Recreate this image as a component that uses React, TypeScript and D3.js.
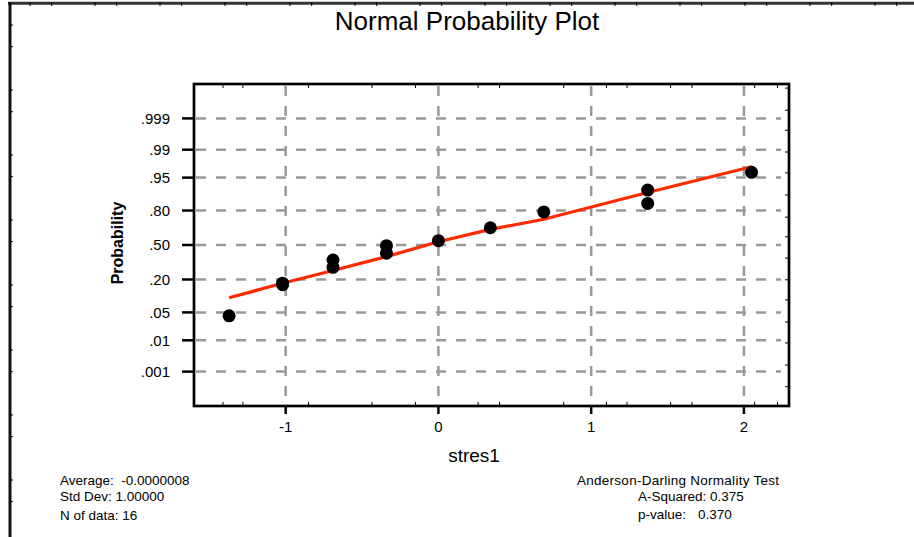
import * as d3 from "d3";

const W = 914;
const H = 537;

// stres1 values and plotted probabilities
const residuals = [-1.37, -1.02, -1.02, -0.69, -0.69, -0.34, -0.34, 0.0, 0.34, 0.69, 1.37, 1.37, 2.05];
const probs = [0.042, 0.176, 0.166, 0.357, 0.293, 0.493, 0.42, 0.542, 0.663, 0.79, 0.91, 0.845, 0.962];

// fitted line
const fitX = [-1.37, -1.02, -0.69, -0.34, 0.0, 0.34, 0.69, 1.37, 2.05];
const fitP = [0.099, 0.175, 0.267, 0.388, 0.532, 0.649, 0.735, 0.9, 0.972];

const yTicks = [0.999, 0.99, 0.95, 0.8, 0.5, 0.2, 0.05, 0.01, 0.001];
const yTickLabels = [".999", ".99", ".95", ".80", ".50", ".20", ".05", ".01", ".001"];
const xTicks = [-1, 0, 1, 2];

// small frame ticks
const xMinor = [-1.41, -1.28, -0.85, -0.435, -0.15, 0.26, 0.4, 0.82, 1.1, 1.235, 1.52, 1.66, 2.07, 2.22];
const zMinorRight = [3.83, 3.29, 2.8, 2.27, 1.76, 1.22, 0.68, 0.2, -0.32, -0.85, -1.34, -1.88, -2.39, -2.93, -3.46];

const statsLeft = ["Average:  -0.0000008", "Std Dev: 1.00000", "N of data: 16"];

// inverse normal cdf (Acklam)
const qnorm = (p: number) => {
  const a = [-39.69683028665376, 220.9460984245205, -275.9285104469687, 138.357751867269, -30.66479806614716, 2.506628277459239];
  const b = [-54.47609879822406, 161.5858368580409, -155.6989798598866, 66.80131188771972, -13.28068155288572];
  const c = [-0.007784894002430293, -0.3223964580411365, -2.400758277161838, -2.549732539343734, 4.374664141464968, 2.938163982698783];
  const d = [0.007784695709041462, 0.3224671290700398, 2.445134137142996, 3.754408661907416];
  const pl = 0.02425;
  if (p < pl) {
    const q = Math.sqrt(-2 * Math.log(p));
    return (((((c[0] * q + c[1]) * q + c[2]) * q + c[3]) * q + c[4]) * q + c[5]) /
      ((((d[0] * q + d[1]) * q + d[2]) * q + d[3]) * q + 1);
  }
  if (p > 1 - pl) {
    const q = Math.sqrt(-2 * Math.log(1 - p));
    return -(((((c[0] * q + c[1]) * q + c[2]) * q + c[3]) * q + c[4]) * q + c[5]) /
      ((((d[0] * q + d[1]) * q + d[2]) * q + d[3]) * q + 1);
  }
  const q = p - 0.5;
  const r = q * q;
  return (((((a[0] * r + a[1]) * r + a[2]) * r + a[3]) * r + a[4]) * r + a[5]) * q /
    (((((b[0] * r + b[1]) * r + b[2]) * r + b[3]) * r + b[4]) * r + 1);
};

const L = 194, R = 789, T = 84, B = 406;
const font = "'Liberation Sans', Arial, Helvetica, sans-serif";

const App = () => {
  const x = d3.scaleLinear().domain([-1.6, 2.295]).range([L, R]);
  const z = d3.scaleLinear().domain([-3.93, 3.93]).range([B, T]);
  const y = (p: number) => z(qnorm(p));

  const line = d3
    .line<number>()
    .x((_, i) => x(fitX[i]))
    .y((p) => y(p));

  const topTicks = d3.range(30, W, 65).flatMap((v) => [v, v + 21.7]);
  const leftTicks = d3.range(25, H, 65).flatMap((v) => [v, v + 21.7]);

  return (
    <svg
      width={W}
      height={H}
      style={{ position: "absolute", left: 0, top: 0, background: "#fff" }}
      fontFamily={font}
    >
      {/* page frame */}
      <line x1={8} x2={W} y1={3.3} y2={3.3} stroke="#333" strokeWidth={3} />
      <line x1={10} x2={10} y1={2} y2={H} stroke="#111" strokeWidth={3} />
      {topTicks.map((v, i) => (
        <line key={"tt" + i} x1={v} x2={v} y1={2} y2={6} stroke="#000" strokeWidth={1} />
      ))}
      {leftTicks.map((v, i) => (
        <line key={"lt" + i} x1={10} x2={13} y1={v} y2={v} stroke="#000" strokeWidth={1} />
      ))}

      <text x={467} y={30} textAnchor="middle" fontSize={26} fill="#000">
        Normal Probability Plot
      </text>

      {/* grid */}
      <g stroke="#999" strokeWidth={2.5} strokeDasharray="10,10">
        {yTicks.map((p) => (
          <line key={"h" + p} x1={L + 2} x2={R - 8} y1={y(p)} y2={y(p)} />
        ))}
        {xTicks.map((v) => (
          <line key={"v" + v} x1={x(v)} x2={x(v)} y1={T + 2} y2={B} />
        ))}
      </g>

      {/* minor ticks */}
      <g stroke="#000" strokeWidth={1}>
        {xMinor.map((v) => (
          <g key={"xm" + v}>
            <line x1={x(v)} x2={x(v)} y1={T} y2={T + 4} />
            <line x1={x(v)} x2={x(v)} y1={B} y2={B - 4} />
          </g>
        ))}
        {zMinorRight.map((v) => (
          <line key={"zm" + v} x1={R - 4} x2={R} y1={z(v)} y2={z(v)} />
        ))}
      </g>

      {/* major ticks and labels */}
      {yTicks.map((p, i) => (
        <g key={"yt" + p}>
          <line x1={L - 12} x2={L} y1={y(p)} y2={y(p)} stroke="#000" strokeWidth={2.5} />
          <text x={170} y={y(p)} dy="0.36em" textAnchor="end" fontSize={15} fill="#000">
            {yTickLabels[i]}
          </text>
        </g>
      ))}
      {xTicks.map((v) => (
        <g key={"xt" + v}>
          <line x1={x(v)} x2={x(v)} y1={B} y2={B + 8} stroke="#000" strokeWidth={2.5} />
          <text x={x(v)} y={432} textAnchor="middle" fontSize={15} fill="#000">
            {v}
          </text>
        </g>
      ))}

      <rect x={L} y={T} width={R - L} height={B - T} fill="none" stroke="#000" strokeWidth={2.7} />

      {/* fit line */}
      <path d={line(fitP) ?? ""} fill="none" stroke="#ff2a00" strokeWidth={3.2} />

      {/* points */}
      {residuals.map((r, i) => (
        <circle key={"p" + i} cx={x(r)} cy={y(probs[i])} r={6.5} fill="#000" />
      ))}

      <text x={474} y={462} textAnchor="middle" fontSize={19} fill="#000">
        stres1
      </text>
      <text
        transform="translate(123,243) rotate(-90)"
        textAnchor="middle"
        fontSize={16}
        fontWeight="bold"
        fill="#000"
      >
        Probability
      </text>

      {/* stats */}
      <g fontSize={13.5} fill="#000">
        <text x={60} y={485} style={{ whiteSpace: "pre" }}>{statsLeft[0]}</text>
        <text x={60} y={501}>{statsLeft[1]}</text>
        <text x={60} y={520}>{statsLeft[2]}</text>
        <text x={577} y={485} textLength={202}>Anderson-Darling Normality Test</text>
        <text x={638} y={501}>A-Squared: 0.375</text>
        <text x={638} y={519}>p-value:</text>
        <text x={698} y={519}>0.370</text>
      </g>
    </svg>
  );
};

export default App;
